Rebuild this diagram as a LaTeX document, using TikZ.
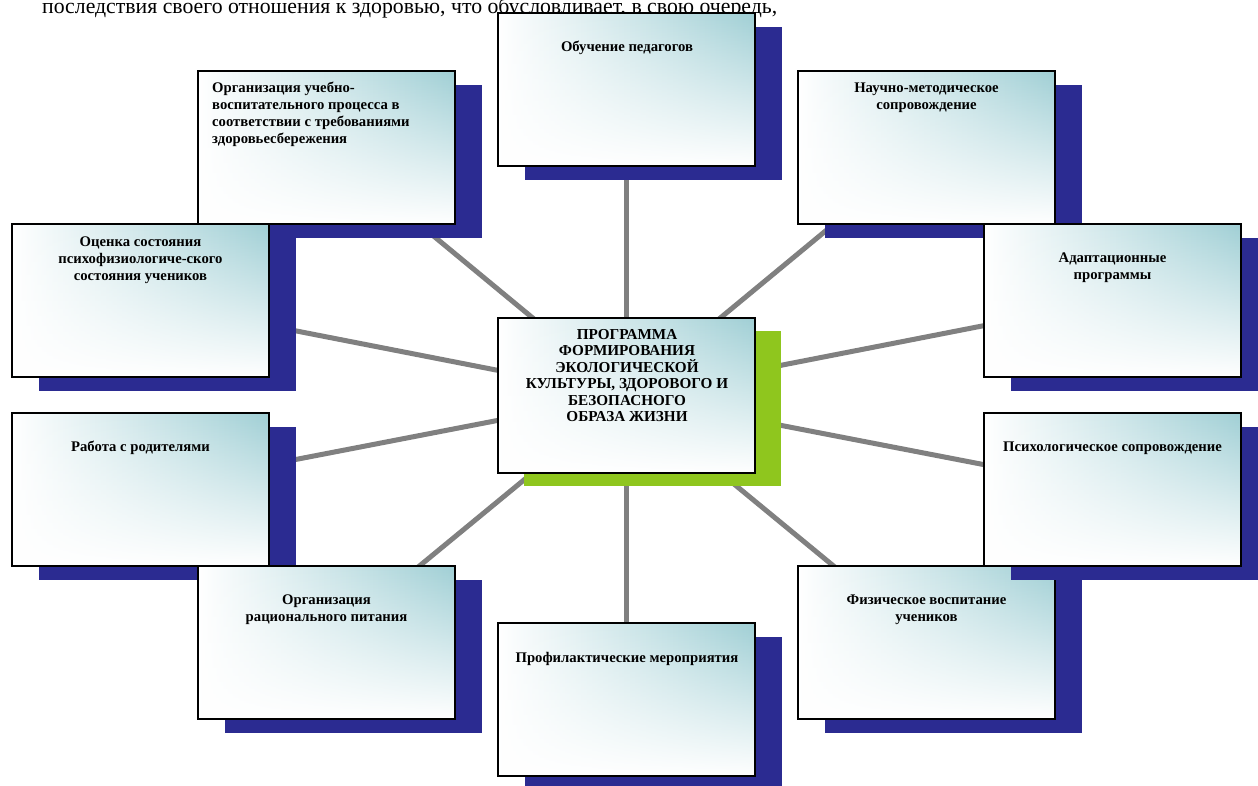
\documentclass[tikz,border=0pt]{standalone}
\usepackage{fontspec}
\setmainfont{Liberation Serif}
\usetikzlibrary{shadows,backgrounds,fadings}
\definecolor{shblue}{RGB}{43,43,145}
\definecolor{lgreen}{RGB}{143,198,30}
\definecolor{tealc}{RGB}{160,207,213}
\definecolor{conngray}{RGB}{128,128,128}
\tikzfading[name=cardfade, top color=transparent!0, middle color=transparent!45, bottom color=transparent!100]
\tikzset{
  cardlook/.style={fill=white, inner sep=0pt,
    postaction={left color=white, middle color=tealc!30, right color=tealc, path fading=cardfade},
    postaction={draw=black, line width=2pt}},
  card/.style={cardlook, minimum width=257pt, minimum height=153pt,
    general shadow={fill=shblue, shadow xshift=27pt, shadow yshift=-14pt}},
  hub/.style={cardlook, minimum width=257pt, minimum height=155pt,
    general shadow={fill=lgreen, shadow xshift=26pt, shadow yshift=-13pt}},
  lbl/.style={font=\bfseries\fontsize{14.7}{17}\selectfont, align=center, inner sep=0pt, anchor=base},
  hublbl/.style={font=\bfseries\fontsize{15.2}{16.5}\selectfont, align=center, inner sep=0pt, anchor=base},
  connector/.style={draw=conngray, line width=5pt},
  toptext/.style={font=\fontsize{21.76}{22}\selectfont, inner sep=0pt, anchor=base west}
}
\begin{document}
\begin{tikzpicture}[x=1pt, y=-1pt]
\useasboundingbox (0,0) rectangle (1258,785);
\clip (0,0) rectangle (1258,785);

\node[toptext] (topline) at (42,13) {последствия своего отношения к здоровью, что обусловливает, в свою очередь,};

\node[hub] (c) at (626.5,395.5) {};
\node[hublbl] (ct) at (627,421.5) {ПРОГРАММА\\ФОРМИРОВАНИЯ\\ЭКОЛОГИЧЕСКОЙ\\КУЛЬТУРЫ, ЗДОРОВОГО И\\БЕЗОПАСНОГО\\ОБРАЗА ЖИЗНИ};

\node[card] (b1) at (626.5,89.5) {};
\node[lbl] (t1) at (627,51) {Обучение педагогов};

\node[card] (b2) at (326.5,147.5) {};
\node[lbl, align=left, anchor=base west] (t2) at (212,143) {Организация учебно-\\воспитательного процесса в\\соответствии с требованиями\\здоровьесбережения};

\node[card] (b5) at (140.5,300.5) {};
\node[lbl] (t5) at (140.5,280) {Оценка состояния\\психофизиологиче-ского\\состояния учеников};

\node[card] (b3) at (926.5,147.5) {};
\node[lbl] (t3) at (926.5,109) {Научно-методическое\\сопровождение};

\node[card] (b4) at (1112.5,300.5) {};
\node[lbl] (t4) at (1112.5,279) {Адаптационные\\программы};

\node[card] (b6) at (140.5,489.5) {};
\node[lbl] (t6) at (140.5,451) {Работа с родителями};

\node[card] (b7) at (326.5,642.5) {};
\node[lbl] (t7) at (326.5,621) {Организация\\рационального питания};

\node[card] (b8) at (626.5,699.5) {};
\node[lbl] (t8) at (627,662) {Профилактические мероприятия};

\node[card] (b9) at (926.5,642.5) {};
\node[lbl] (t9) at (926.5,621) {Физическое воспитание\\учеников};

\node[card] (b10) at (1112.5,489.5) {};
\node[lbl] (t10) at (1112.5,451) {Психологическое сопровождение};

\begin{scope}[on background layer]
  \fill[white] (0,0) rectangle (1258,785);
  \foreach \b in {b1,b2,b3,b4,b5,b6,b7,b8,b9,b10}
    \draw[connector] (c.center) -- (\b.center);
\end{scope}
\end{tikzpicture}
\end{document}
